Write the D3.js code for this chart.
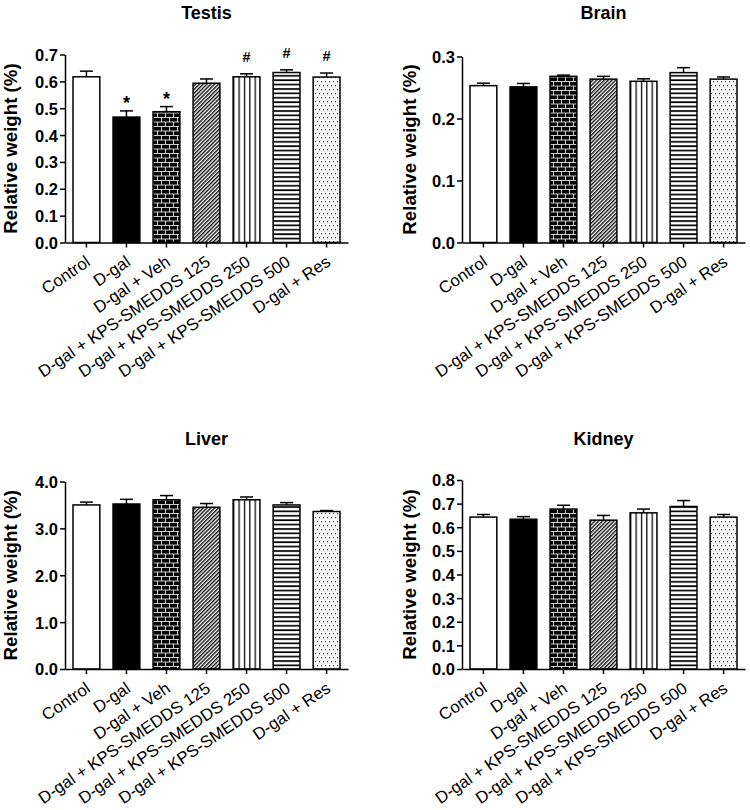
<!DOCTYPE html>
<html>
<head>
<meta charset="utf-8">
<script src="https://cdn.jsdelivr.net/npm/d3@7"></script>
<style>
  body { margin: 0; background: #fff; }
  text { font-family: "Liberation Sans", Arial, sans-serif; fill: #000; }
</style>
</head>
<body>
<script>
// groups on the x axis (same for every organ)
const groups = [
  'Control', 'D-gal', 'D-gal + Veh',
  'D-gal + KPS-SMEDDS 125', 'D-gal + KPS-SMEDDS 250', 'D-gal + KPS-SMEDDS 500',
  'D-gal + Res'
];

// relative weight (%), mean and SEM
const testisMean = [0.617, 0.467, 0.487, 0.593, 0.617, 0.633, 0.616];
const testisErr  = [0.021, 0.023, 0.019, 0.016, 0.011, 0.010, 0.015];
const testisMarks = ['', '*', '*', '', '#', '#', '#'];

const brainMean = [0.253, 0.251, 0.268, 0.2635, 0.260, 0.274, 0.2635];
const brainErr  = [0.004, 0.0055, 0.002, 0.0045, 0.004, 0.008, 0.0035];

const liverMean = [3.50, 3.52, 3.61, 3.45, 3.61, 3.50, 3.36];
const liverErr  = [0.06, 0.10, 0.09, 0.08, 0.06, 0.05, 0.02];

const kidneyMean = [0.643, 0.634, 0.677, 0.630, 0.661, 0.688, 0.643];
const kidneyErr  = [0.011, 0.011, 0.016, 0.020, 0.016, 0.025, 0.011];

const fills = ['#fff', '#000', 'url(#brick)', 'url(#diag)', 'url(#vert)', 'url(#horiz)', 'url(#dots)'];

const svg = d3.select('body').append('svg')
  .attr('width', 750).attr('height', 810);

svg.append('rect').attr('width', 750).attr('height', 810).attr('fill', '#fff');

// ---- fill patterns
const defs = svg.append('defs');

const brick = defs.append('pattern').attr('id', 'brick')
  .attr('patternUnits', 'userSpaceOnUse').attr('width', 8).attr('height', 9);
brick.append('rect').attr('width', 8).attr('height', 9).attr('fill', '#000');
brick.append('path')
  .attr('d', 'M0,0.5H8M0,5H8M1.5,0.5V5M5.5,5V9')
  .attr('stroke', '#fff').attr('stroke-width', 0.8).attr('fill', 'none');

const diag = defs.append('pattern').attr('id', 'diag')
  .attr('patternUnits', 'userSpaceOnUse').attr('width', 2.7).attr('height', 10)
  .attr('patternTransform', 'rotate(45)');
diag.append('rect').attr('width', 2.7).attr('height', 10).attr('fill', '#fff');
diag.append('line').attr('x1', 0.7).attr('x2', 0.7).attr('y1', 0).attr('y2', 10)
  .attr('stroke', '#000').attr('stroke-width', 1.3);

const vert = defs.append('pattern').attr('id', 'vert')
  .attr('patternUnits', 'objectBoundingBox').attr('width', 0.2).attr('height', 1);
vert.append('rect').attr('width', 10).attr('height', 400).attr('fill', '#fff');
vert.append('line').attr('x1', 0.5).attr('x2', 0.5).attr('y1', 0).attr('y2', 400)
  .attr('stroke', '#000').attr('stroke-width', 1.5);

const horiz = defs.append('pattern').attr('id', 'horiz')
  .attr('patternUnits', 'userSpaceOnUse').attr('width', 10).attr('height', 4.4);
horiz.append('rect').attr('width', 10).attr('height', 4.4).attr('fill', '#fff');
horiz.append('line').attr('x1', 0).attr('x2', 10).attr('y1', 1).attr('y2', 1)
  .attr('stroke', '#000').attr('stroke-width', 1.7);

const dots = defs.append('pattern').attr('id', 'dots')
  .attr('patternUnits', 'userSpaceOnUse').attr('width', 4).attr('height', 8);
dots.append('rect').attr('width', 4).attr('height', 8).attr('fill', '#fbfbfb');
dots.append('rect').attr('x', 1).attr('y', 1).attr('width', 1.2).attr('height', 1.2).attr('fill', '#444');
dots.append('rect').attr('x', 3).attr('y', 5).attr('width', 1.2).attr('height', 1.2).attr('fill', '#444');

function drawPanel(p) {
  const g = svg.append('g');

  const x = d3.scaleBand().domain(groups)
    .range([p.x0, p.x1]).paddingInner(0.33).paddingOuter(0.2);
  const y = d3.scaleLinear().domain([0, p.yMax]).range([p.yBottom, p.yTop]);

  const rows = groups.map((k, i) => ({ k, i, m: p.means[i], e: p.errs[i] }));

  // error bars (upper only)
  const cap = 6.5;
  const eb = g.append('g').attr('stroke', '#000').attr('stroke-width', 1.5);
  eb.selectAll('.stem').data(rows).enter().append('line')
    .attr('x1', d => x(d.k) + x.bandwidth() / 2).attr('x2', d => x(d.k) + x.bandwidth() / 2)
    .attr('y1', d => y(d.m)).attr('y2', d => y(d.m + d.e));
  eb.selectAll('.cap').data(rows).enter().append('line')
    .attr('x1', d => x(d.k) + x.bandwidth() / 2 - cap).attr('x2', d => x(d.k) + x.bandwidth() / 2 + cap)
    .attr('y1', d => y(d.m + d.e)).attr('y2', d => y(d.m + d.e));

  g.selectAll('.bar').data(rows).enter().append('rect')
    .attr('x', d => x(d.k)).attr('width', x.bandwidth())
    .attr('y', d => y(d.m)).attr('height', d => y(0) - y(d.m))
    .attr('fill', d => fills[d.i])
    .attr('stroke', '#000').attr('stroke-width', 1.5);

  // significance marks
  if (p.marks) {
    g.selectAll('.mark').data(rows.filter(d => p.marks[d.i])).enter().append('text')
      .attr('x', d => x(d.k) + x.bandwidth() / 2)
      .attr('y', d => y(d.m + d.e) - (p.marks[d.i] === '*' ? 1.5 : 12))
      .attr('text-anchor', 'middle')
      .style('font-weight', 'bold')
      .style('font-size', d => p.marks[d.i] === '*' ? '18px' : '14.5px')
      .text(d => p.marks[d.i]);
  }

  // y axis
  const ticks = d3.range(0, p.yMax + p.step / 2, p.step);
  const ya = g.append('g').attr('transform', 'translate(' + p.x0 + ',0)')
    .call(d3.axisLeft(y).tickValues(ticks).tickFormat(d3.format('.1f')).tickSize(5).tickSizeOuter(0));
  ya.selectAll('text').attr('x', -7).attr('dy', '0.36em')
    .style('font-family', '"Liberation Sans", Arial, sans-serif')
    .style('font-size', '16.5px').style('font-weight', 'bold');

  // x axis
  const xa = g.append('g').attr('transform', 'translate(0,' + p.yBottom + ')')
    .call(d3.axisBottom(x).tickSize(5).tickSizeOuter(0));
  xa.selectAll('text')
    .attr('y', 0).attr('dy', '0.75em')
    .attr('text-anchor', 'end')
    .attr('transform', 'translate(-2,11.5) rotate(-34)')
    .style('font-family', '"Liberation Sans", Arial, sans-serif')
    .style('font-size', '16.8px');

  svg.selectAll('.domain, .tick line').attr('stroke', '#000').attr('stroke-width', 1.5);

  // title and y label
  g.append('text').attr('x', (p.x0 + p.x1) / 2).attr('y', p.titleY)
    .attr('text-anchor', 'middle')
    .style('font-size', '18px').style('font-weight', 'bold')
    .text(p.title);

  g.append('text')
    .attr('transform', 'translate(' + p.labelX + ',' + (p.yTop + p.yBottom) / 2 + ') rotate(-90)')
    .attr('text-anchor', 'middle')
    .style('font-size', '18.7px').style('font-weight', 'bold')
    .text('Relative weight (%)');
}

drawPanel({ title: 'Testis', means: testisMean, errs: testisErr, marks: testisMarks,
  yMax: 0.7, step: 0.1, x0: 65, x1: 348, yTop: 54.5, yBottom: 242.5, titleY: 19, labelX: 17 });
drawPanel({ title: 'Brain', means: brainMean, errs: brainErr,
  yMax: 0.3, step: 0.1, x0: 462, x1: 745, yTop: 56.5, yBottom: 242.5, titleY: 19, labelX: 416 });
drawPanel({ title: 'Liver', means: liverMean, errs: liverErr,
  yMax: 4, step: 1, x0: 65, x1: 348, yTop: 481.5, yBottom: 669, titleY: 445, labelX: 17 });
drawPanel({ title: 'Kidney', means: kidneyMean, errs: kidneyErr,
  yMax: 0.8, step: 0.1, x0: 462, x1: 745, yTop: 480, yBottom: 669, titleY: 445, labelX: 416 });
</script>
</body>
</html>
